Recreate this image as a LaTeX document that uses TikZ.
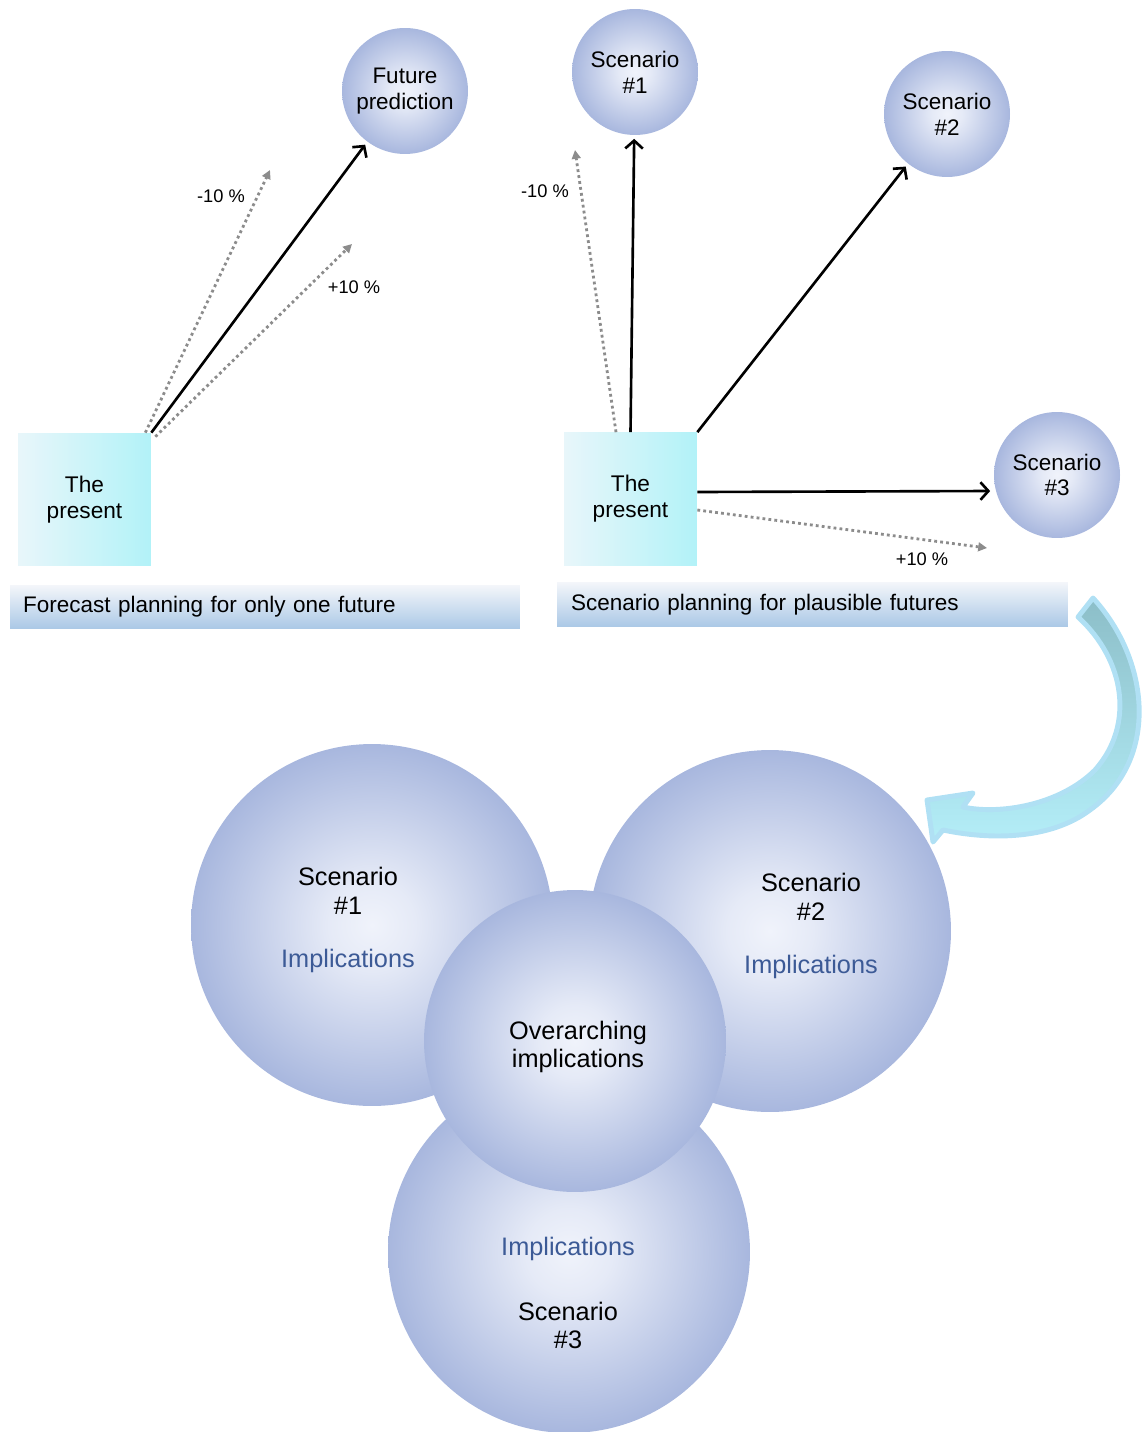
\documentclass[tikz,border=0pt]{standalone}
\usepackage{fontspec}
\setmainfont{Liberation Sans}
\usetikzlibrary{arrows.meta}

\definecolor{orbin}{RGB}{240,243,251}
\definecolor{orbout}{RGB}{168,183,222}
\definecolor{nowleft}{RGB}{232,246,250}
\definecolor{nowright}{RGB}{178,242,248}
\definecolor{bantop}{RGB}{244,246,250}
\definecolor{banbot}{RGB}{170,200,230}
\definecolor{implblue}{RGB}{60,90,150}
\definecolor{dotgray}{RGB}{140,140,140}
\definecolor{arrteal}{RGB}{140,190,200}
\definecolor{arrcyan}{RGB}{180,238,248}
\definecolor{arredge}{RGB}{176,224,244}
\pgfdeclareradialshading{orbshade}{\pgfpoint{0bp}{0bp}}{color(0bp)=(orbin); color(6bp)=(orbin!85!orbout); color(25bp)=(orbout); color(50bp)=(orbout)}

\begin{document}
\begin{tikzpicture}[x=0.02cm, y=-0.02cm,
	orb/.style = {circle, shading=orbshade, inner sep=0pt, align=center},
	smallorb/.style = {orb, minimum size=2.52cm,
		font=\fontsize{12.8}{14.7}\selectfont},
	bigorb/.style = {orb, minimum size=7.24cm},
	bigtxt/.style = {align=center, inner sep=0pt,
		font=\fontsize{14.4}{16.4}\selectfont},
	nowbox/.style = {rectangle, minimum size=2.66cm, inner sep=0pt,
		left color=nowleft, right color=nowright, align=center,
		font=\fontsize{12.9}{14.7}\selectfont},
	banner/.style = {rectangle, minimum height=0.88cm, inner ysep=0pt,
		inner xsep=0.26cm, top color=bantop, bottom color=banbot,
		align=left, font=\fontsize{12.8}{15}\selectfont},
	pct/.style = {inner sep=0pt, font=\fontsize{10.4}{12}\selectfont},
	sure/.style = {line width=1.5pt, shorten >=2pt,
		-{Straight Barb[length=4.5pt,width=10pt]}},
	drift/.style = {draw=dotgray, line width=1.6pt, dash pattern=on 1.6pt off 1.8pt,
		-{Triangle[length=5pt,width=5pt]}},
	]
	\useasboundingbox (0,0) rectangle (1144,1432);

	% forecast planning
	\node[nowbox] (nowL) at (84.5,499.5) {The\\present};
	\node[smallorb] (future) at (405,91) {Future\\prediction};
	\node[banner, text width=9.68cm] (banL) at (265,607) {Forecast planning for only one future};

	\coordinate (lowL) at (270,170);
	\coordinate (highL) at (352,244);
	\draw[drift] ([xshift=-0.12cm]nowL.north east) -- (lowL);
	\draw[drift] ([xshift=0.08cm,yshift=-0.08cm]nowL.north east) -- (highL);
	\draw[sure] (nowL.north east) -- (future);
	\node[pct] (lowLtxt) at (221,196) {-10 \%};
	\node[pct] (highLtxt) at (354,287) {+10 \%};

	% scenario planning
	\node[nowbox] (nowR) at (630.5,499) {The\\present};
	\node[smallorb] (sc1) at (635,72) {Scenario\\\#1};
	\node[smallorb] (sc2) at (947,114) {Scenario\\\#2};
	\node[smallorb] (sc3) at (1057,475) {Scenario\\\#3};
	\node[banner, text width=9.66cm, inner xsep=0.28cm, minimum height=0.9cm] (banR) at (812.5,604.5) {Scenario planning for plausible futures};

	\coordinate (lowR) at (575,150);
	\coordinate (highR) at (987,548);
	\draw[drift] ([xshift=-0.29cm]nowR.north) -- (lowR);
	\draw[drift] ([yshift=-0.22cm]nowR.east) -- (highR);
	\draw[sure] (nowR.north) -- (sc1);
	\draw[sure] (nowR.north east) -- (sc2);
	\draw[sure] ([yshift=0.14cm]nowR.east) -- ([yshift=-0.32cm]sc3.west);
	\node[pct] (lowRtxt) at (545,191) {-10 \%};
	\node[pct] (highRtxt) at (922,559) {+10 \%};

	% implications
	\node[bigorb] (orb3) at (569,1252) {};
	\node[bigorb] (orb1) at (372,925) {};
	\node[bigorb] (orb2) at (770,931) {};
	\node[orb, minimum size=6.04cm] (orb0) at (575,1041) {};

	\node[bigtxt] (txt1) at (348,920) {Scenario\\\#1\\[13.6pt]{\color{implblue}Implications}};
	\node[bigtxt] (txt2) at (811,926) {Scenario\\\#2\\[13.6pt]{\color{implblue}Implications}};
	\node[bigtxt] (txt3) at (568,1293) {{\color{implblue}Implications}\\[20.5pt]Scenario\\\#3};
	\node[bigtxt] (txt0) at (578,1047) {Overarching\\implications};

	% curved block arrow
	\shadedraw[draw=arredge, line width=2.8pt, line join=round,
		top color=arrteal, middle color=arrteal!75!arrcyan, bottom color=arrcyan]
	(1078,617) -- (1093,598) .. controls (1150,660) and (1160,760) .. (1090,810)
	.. controls (1050,840) and (990,840) .. (943,830) -- (933,842) -- (927,800)
	-- (973,793) -- (963,807) .. controls (1000,815) and (1060,805) .. (1095,770)
	.. controls (1135,725) and (1125,660) .. (1078,617) -- cycle;
\end{tikzpicture}
\end{document}
